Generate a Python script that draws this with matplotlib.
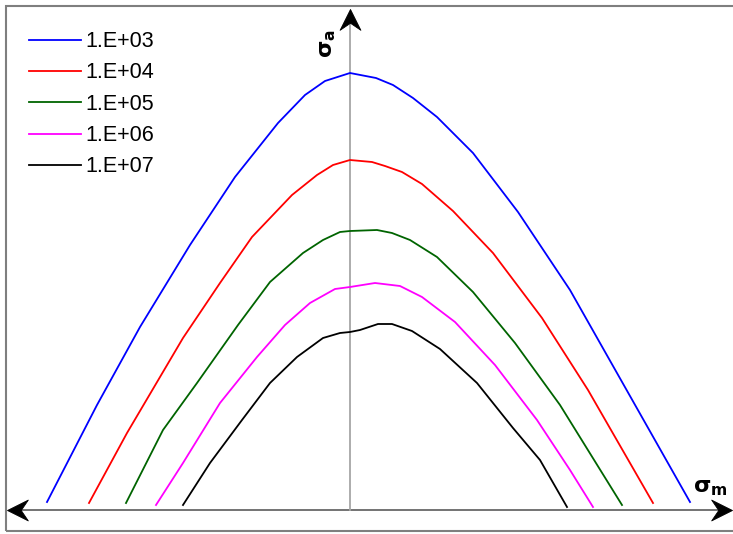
import matplotlib
matplotlib.use("Agg")
import matplotlib.pyplot as plt
from matplotlib.patches import Rectangle
from matplotlib.path import Path

plt.rcParams['font.family'] = ['Liberation Sans', 'DejaVu Sans']

labels = ["1.E+03", "1.E+04", "1.E+05", "1.E+06", "1.E+07"]
colors = ["#0000ff", "#ff0000", "#006400", "#ff00ff", "#000000"]

# sigma_m, sigma_a (arbitrary units)
sm_1e3 = [-302, -252, -209, -159, -114, -71, -44, -24, 1, 27, 44, 64, 88, 124, 169, 221, 341]
sa_1e3 = [8, 105, 183, 265, 333, 387, 415, 429, 437, 432, 425, 412, 393, 357, 298, 220, 8]

sm_1e4 = [-260, -222, -166, -129, -97, -57, -32, -16, 1, 23, 36, 53, 73, 104, 144, 193, 239, 304]
sa_1e4 = [7, 77, 172, 227, 273, 315, 335, 345, 350, 348, 344, 338, 326, 299, 257, 192, 120, 7]

sm_1e5 = [-223, -186, -152, -111, -79, -46, -26, -9, 1, 28, 43, 61, 88, 124, 166, 211, 273]
sa_1e5 = [7, 80, 127, 185, 228, 257, 270, 278, 279, 280, 277, 270, 253, 218, 167, 105, 5]

sm_1e6 = [-193, -166, -129, -92, -64, -39, -14, 1, 26, 51, 73, 106, 146, 188, 221, 244]
sa_1e6 = [5, 47, 107, 153, 185, 207, 221, 223, 227, 224, 213, 188, 145, 90, 40, 3]

sm_1e7 = [-166, -139, -107, -79, -52, -26, -9, 1, 11, 29, 43, 63, 91, 128, 164, 191, 218]
sa_1e7 = [5, 47, 90, 127, 153, 172, 177, 178, 180, 186, 186, 179, 161, 127, 82, 50, 3]

series = [(sm_1e3, sa_1e3), (sm_1e4, sa_1e4), (sm_1e5, sa_1e5), (sm_1e6, sa_1e6), (sm_1e7, sa_1e7)]

W, H = 733, 534
fig = plt.figure(figsize=(W / 100, H / 100), dpi=100)
ax = fig.add_axes([0, 0, 1, 1])
ax.set_xlim(-349, W - 349)
ax.set_ylim(510 - H, 510)
ax.axis('off')

# figure border
fig.patches.append(Rectangle((6 / W, 3 / H), (W + 2) / W, (H - 9) / H,
                             transform=fig.transFigure, fill=False,
                             edgecolor="#7f7f7f", linewidth=1.5, zorder=0))

# axes lines
ax.plot([-336, 376], [0, 0], color="#4d4d4d", lw=1.1, zorder=1)
ax.plot([1, 1], [0, 488], color="#a6a6a6", lw=1.3, zorder=1)


def arrow_marker(direction):
    w, n = 0.5, 0.66
    base = [(0, 0), (-w, -1), (0, -n), (w, -1), (0, 0)]
    if direction == "up":
        v = base
    elif direction == "right":
        v = [(y, x) for x, y in base]
    else:
        v = [(-y, x) for x, y in base]
    return Path(v, [Path.MOVETO, Path.LINETO, Path.LINETO, Path.LINETO, Path.CLOSEPOLY])


ax.plot([383], [0], marker=arrow_marker("right"), ms=30, color="black", mew=0.6, zorder=4)
ax.plot([-342], [0], marker=arrow_marker("left"), ms=30, color="black", mew=0.6, zorder=4)
ax.plot([1], [501], marker=arrow_marker("up"), ms=30, color="black", mew=0.6, zorder=4)

for (x, y), c, lab in zip(series, colors, labels):
    ax.plot(x, y, color=c, lw=1.3, label=lab, zorder=3)

ax.text(-22, 466, r"$\mathbf{\sigma}_{\mathbf{a}}$", rotation=90, fontsize=16,
        ha="center", va="center", fontweight="bold")
ax.text(361, 22, r"$\mathbf{\sigma}_{\mathbf{m}}$", fontsize=16,
        ha="center", va="center", fontweight="bold")

leg = ax.legend(loc="upper left", bbox_to_anchor=(20 / W, 1 - 22.5 / H), frameon=False,
                fontsize=15.5, handlelength=2.42, handletextpad=0.22, labelspacing=0.48,
                borderaxespad=0)

fig.savefig("out.png", dpi=100)
